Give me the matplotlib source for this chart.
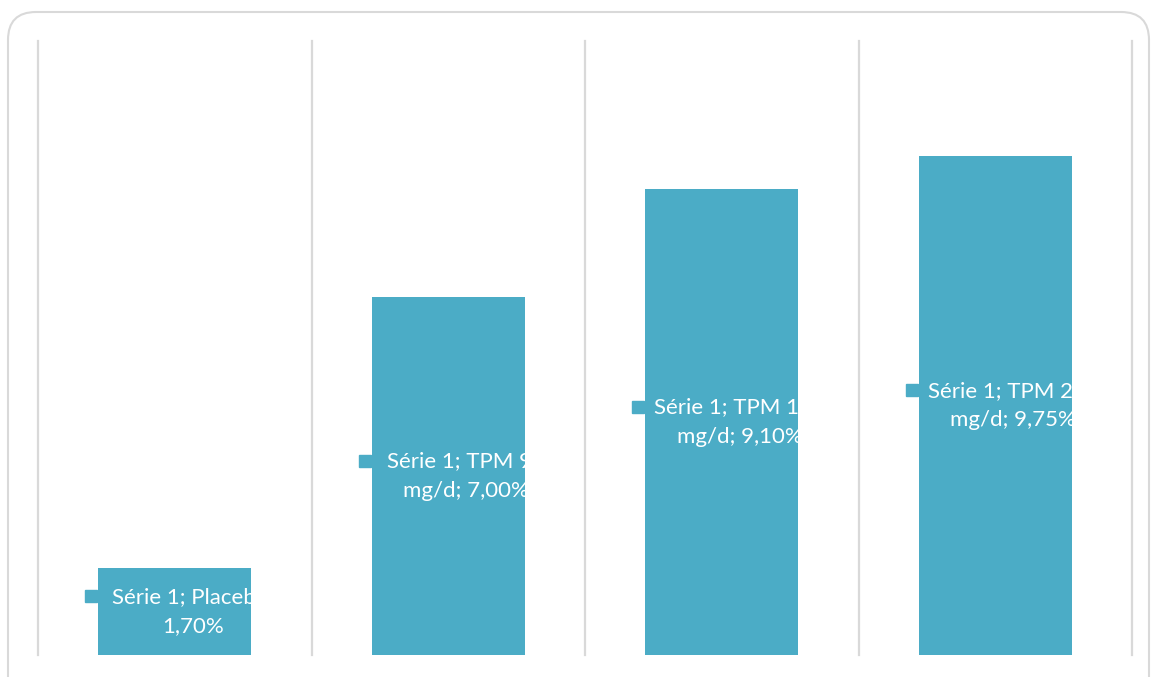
import matplotlib
matplotlib.use("Agg")
import matplotlib.pyplot as plt
import matplotlib.patches as mpatches
import matplotlib.transforms as mtransforms
import numpy as np

series_name = "Série 1"
categories = ["Placebo", "TPM 96\nmg/d", "TPM 192\nmg/d", "TPM 256\nmg/d"]
values = [1.70, 7.00, 9.10, 9.75]

bar_color = "#4BACC6"
grid_color = "#d9d9d9"

plt.rcParams["font.family"] = ["Lato", "DejaVu Sans"]

fig = plt.figure(figsize=(11.51, 6.77), dpi=100)
ax = fig.add_axes([38 / 1151, 22 / 677, (1132 - 38) / 1151, (655 - 41) / 677])

x = np.arange(len(values))
ax.bar(x, values, width=0.56, color=bar_color, zorder=2)

ax.set_xlim(-0.5, len(values) - 0.5)
ax.set_ylim(0, 12)

# vertical category gridlines
for b in np.arange(-0.5, len(values), 1.0):
	ax.axvline(b, color=grid_color, lw=1.6, zorder=1, clip_on=False)

for s in ax.spines.values():
	s.set_visible(False)
ax.set_xticks([])
ax.set_yticks([])

# data labels with legend key (white text, overflow vanishes on white)
for i, v in enumerate(values):
	cat = categories[i]
	if "\n" in cat:
		first, second = cat.split("\n")
		txt = "%s; %s\n%s; %s%%" % (series_name, first, second, ("%.2f" % v).replace(".", ","))
	else:
		txt = "%s; %s;\n%s%%" % (series_name, cat, ("%.2f" % v).replace(".", ","))
	ax.annotate(txt, xy=(i, v / 2), xytext=(13, 0), textcoords="offset points",
		ha="center", va="center", multialignment="center",
		color="white", fontsize=16, linespacing=1.6, zorder=3)
	key_tr = mtransforms.offset_copy(ax.transData, fig=fig, x=-60, y=11, units="points")
	ax.plot([i], [v / 2], marker="s", ms=9, color=bar_color, transform=key_tr,
		clip_on=False, zorder=3)

# rounded chart frame
frame = mpatches.FancyBboxPatch((8, -40), 1141, 705,
	boxstyle="round,pad=0,rounding_size=28",
	transform=mtransforms.IdentityTransform(),
	ec=grid_color, fc="none", lw=1.5)
fig.add_artist(frame)

plt.savefig("out.png", dpi=100)
